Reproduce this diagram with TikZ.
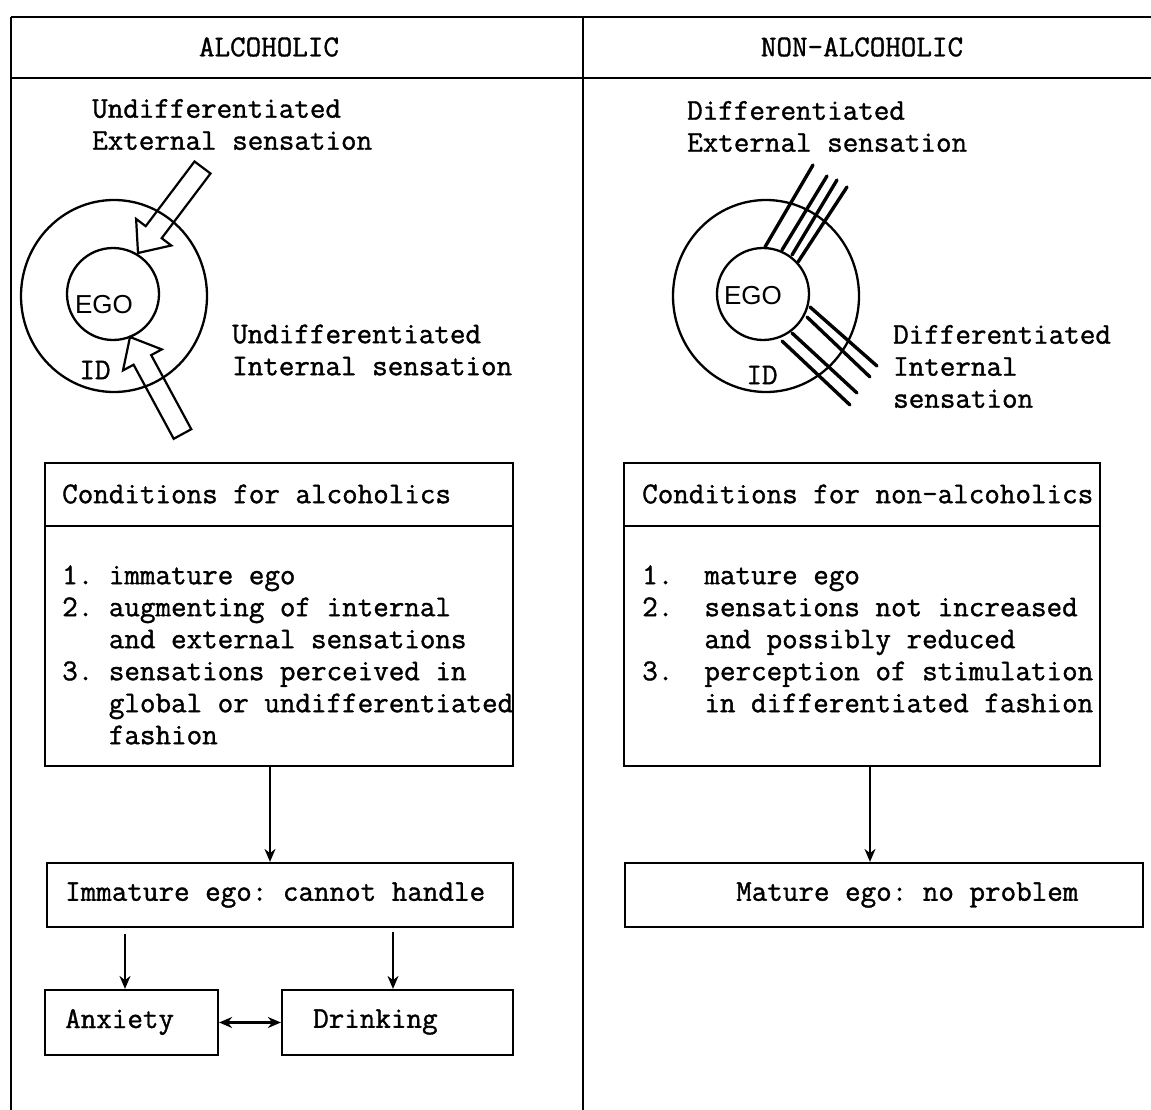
\documentclass[tikz,border=0pt]{standalone}
\usepackage{fontspec}
\usetikzlibrary{arrows.meta}
\newfontfamily\twfont[FakeBold=1.2]{Latin Modern Mono}
\newfontfamily\egofont{Liberation Sans}
\newcommand{\twsize}{\fontsize{30.2}{32}\selectfont}
\begin{document}
\begin{tikzpicture}[x=1pt,y=-1pt,
  frame/.style={line width=2.4pt},
  ring/.style={line width=2.3pt},
  box/.style={draw, line width=2.2pt, inner sep=0pt},
  lbl/.style={font=\twfont\twsize\frenchspacing, anchor=west, align=left, inner sep=0pt},
  egotxt/.style={font=\egofont\fontsize{26}{30}\selectfont, inner sep=0pt},
  link/.style={-{Stealth[length=13pt,width=11pt]}, line width=1.7pt},
  hollow/.style={line width=2.2pt, line join=miter},
  ray/.style={line width=3.4pt, line cap=round}]
\useasboundingbox (0,0) rectangle (1151,1110);
\fill[white] (0,0) rectangle (1151,1110);

% frame
\draw[frame] (11,17) -- (1151,17);
\draw[frame] (11,78) -- (1151,78);
\draw[frame] (11,17) -- (11,1110);
\draw[frame] (583,17) -- (583,1110);
\node[lbl, anchor=center] (hA) at (269,47) {ALCOHOLIC};
\node[lbl, anchor=center] (hN) at (862,47) {NON-ALCOHOLIC};

% left diagram
\node[lbl] (extL) at (92,124.5) {Undifferentiated\\External sensation};
\draw[ring] (114,296) ellipse [x radius=93, y radius=96];
\node[draw, circle, minimum size=92pt, line width=2.3pt, inner sep=0pt] (egoL) at (113,294) {};
\node[egotxt] (egoLt) at (104,305) {EGO};
\node[lbl, anchor=center] (idL) at (95,370) {ID};
\draw[hollow] (138,253) -- (171.3,245.5) -- (161.7,238.2) -- (210.5,173.5) -- (194.5,161.5) -- (145.7,226.2) -- (136.1,218.9) -- cycle;
\draw[hollow] (130,337) -- (161.8,349.4) -- (151.2,355.1) -- (191.3,429.2) -- (173.7,438.8) -- (133.6,364.7) -- (123.0,370.4) -- cycle;
\node[lbl] (intL) at (232,350) {Undifferentiated\\Internal sensation};

% right diagram
\node[lbl] (extR) at (687,126.5) {Differentiated\\External sensation};
\draw[ring] (766,296) ellipse [x radius=93, y radius=96];
\node[draw, circle, minimum size=92pt, line width=2.3pt, inner sep=0pt] (egoR) at (763,294) {};
\node[egotxt] (egoRt) at (753,296) {EGO};
\node[lbl, anchor=center] (idR) at (762,375) {ID};
\draw[ray] (765,247) -- (813,165);
\draw[ray] (782,250) -- (827,176);
\draw[ray] (792,255) -- (837,180);
\draw[ray] (798,262) -- (847,187);
\draw[ray] (810,307) -- (877,366);
\draw[ray] (807,317) -- (870,377);
\draw[ray] (792,333) -- (857,393);
\draw[ray] (782,341) -- (850,405);
\node[lbl] (intR) at (893,366.5) {Differentiated\\Internal\\sensation};

% conditions boxes
\node[box, minimum width=468pt, minimum height=63pt] (cLh) at (279,494.5) {};
\node[box, minimum width=468pt, minimum height=240pt] (cLb) at (279,646) {};
\node[lbl] (cLht) at (62,494) {Conditions for alcoholics};
\node[lbl] (cLbt) at (62,655) {1. immature ego\\2. augmenting of internal\\\phantom{2. }and external sensations\\3. sensations perceived in\\\phantom{3. }global or undifferentiated\\\phantom{3. }fashion};

\node[box, minimum width=476pt, minimum height=63pt] (cRh) at (862,494.5) {};
\node[box, minimum width=476pt, minimum height=240pt] (cRb) at (862,646) {};
\node[lbl] (cRht) at (642,494) {Conditions for non-alcoholics};
\node[lbl] (cRbt) at (642,639) {1.~ mature ego\\2.~ sensations not increased\\\phantom{2.~ }and possibly reduced\\3.~ perception of stimulation\\\phantom{3.~ }in differentiated fashion};

% outcome boxes
\node[box, minimum width=466pt, minimum height=64pt] (imm) at (280,895) {};
\node[lbl] (immt) at (65,895) {Immature ego: cannot handle};
\node[box, minimum width=518pt, minimum height=64pt] (mat) at (884,895) {};
\node[lbl] (matt) at (736,895) {Mature ego: no problem};
\node[box, minimum width=173pt, minimum height=65pt] (anx) at (131.5,1022.5) {};
\node[lbl] (anxt) at (65,1022) {Anxiety};
\node[box, minimum width=231pt, minimum height=65pt] (drk) at (397.5,1022.5) {};
\node[lbl] (drkt) at (313,1022) {Drinking};

% connectors
\draw[link] ([xshift=-9pt]cLb.south) -- ([xshift=-10pt]imm.north);
\draw[link] ([xshift=8pt]cRb.south) -- ([xshift=-14pt]mat.north);
\draw[link, shorten <=6pt] ([xshift=-155pt]imm.south) -- ([xshift=-6.5pt]anx.north);
\draw[link, shorten <=4pt] ([xshift=113pt]imm.south) -- ([xshift=-4.5pt]drk.north);
\draw[{Stealth[length=13pt,width=11pt]}-{Stealth[length=13pt,width=11pt]}, line width=2.2pt] (anx.east) -- (drk.west);
\end{tikzpicture}
\end{document}
